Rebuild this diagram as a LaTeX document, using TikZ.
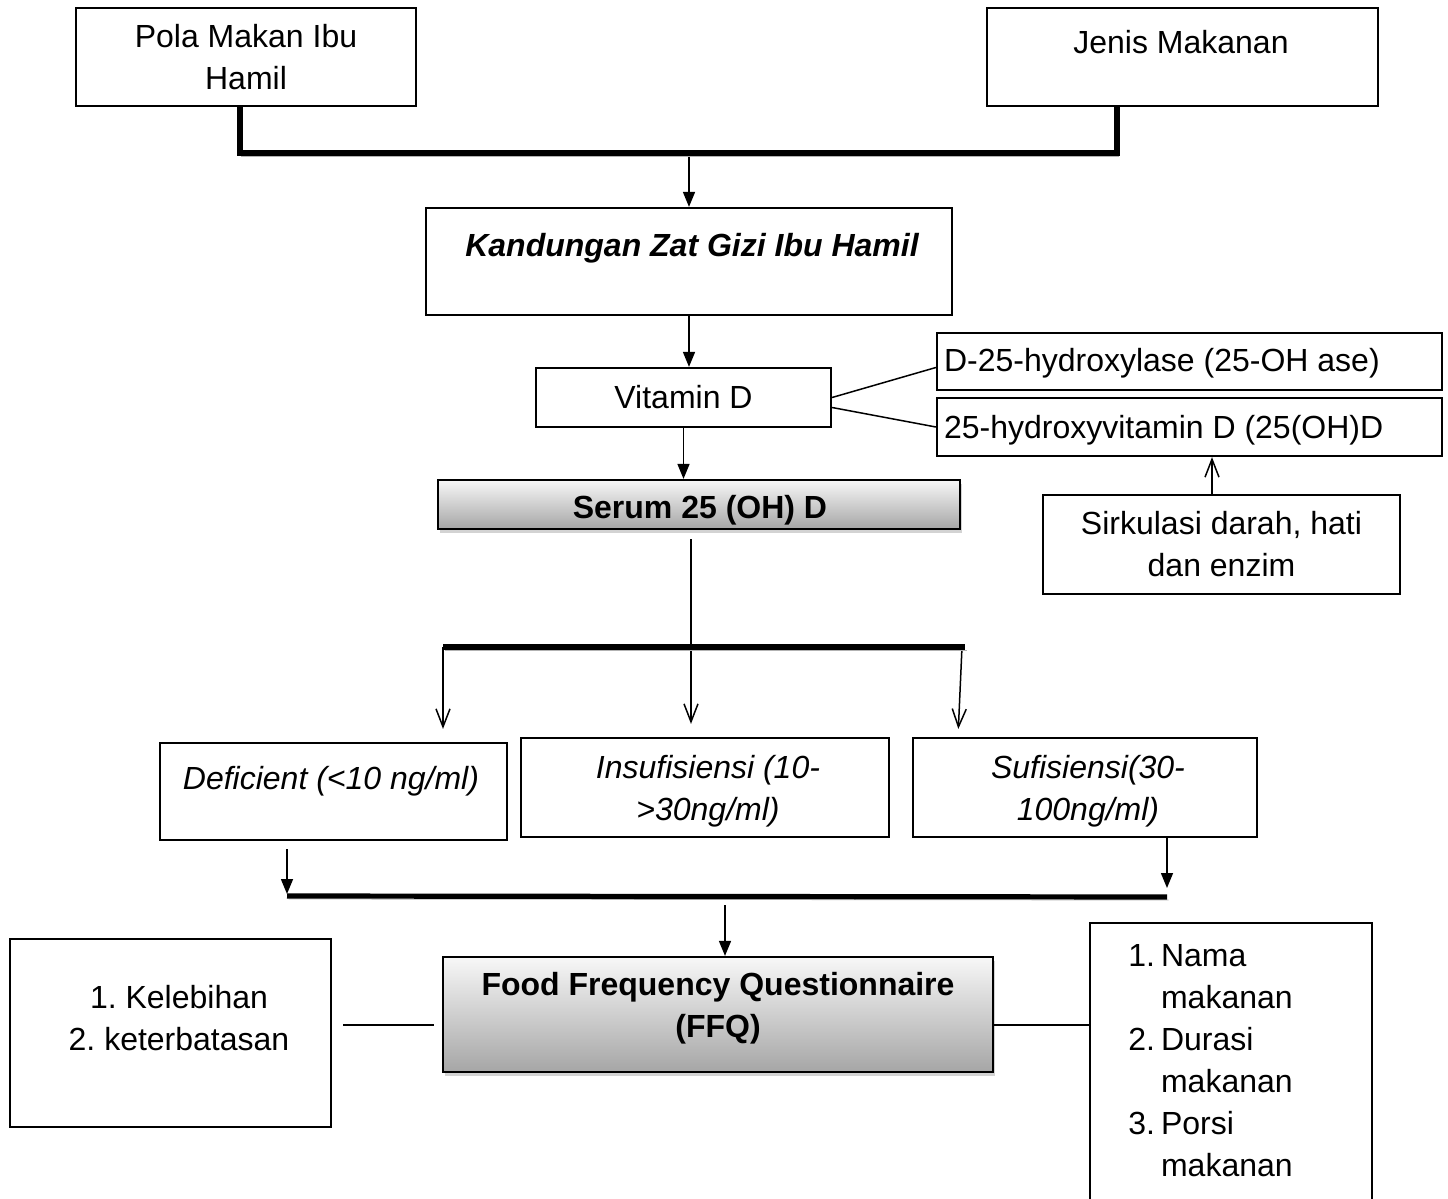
\documentclass[tikz,border=0pt]{standalone}
\usepackage{fontspec}
\setmainfont{Liberation Sans}
\usetikzlibrary{arrows.meta,shadows}
\newcommand{\nodefont}{\fontsize{16}{21}\selectfont\frenchspacing}

\begin{document}
\begin{tikzpicture}[x=0.5pt,y=-0.5pt,
  every node/.style={font=\nodefont,align=center},
  box/.style={draw,line width=1.1pt,inner sep=0pt},
  shadebox/.style={box,top color=black!3,bottom color=black!35,
    drop shadow={shadow xshift=1pt,shadow yshift=-2pt,opacity=0.35}},
  bar/.style={line width=2.6pt,preaction={draw=black!30,transform canvas={xshift=0.8pt,yshift=-1.5pt}}},
  arr/.style={-{Triangle[length=7.5pt,width=6pt]},line width=0.75pt},
  open arr/.style={-{Straight Barb[length=9pt,width=7pt]},line width=0.75pt},
  conn/.style={line width=0.75pt}]

  \useasboundingbox (0,0) rectangle (1448,1199);

  \node[box,minimum width=170pt,minimum height=49pt] (pola) at (246,57) {Pola Makan Ibu\\Hamil};
  \node[box,minimum width=195.5pt,minimum height=49pt] (jenis) at (1182.5,57) {};
  \node (jenistxt) at (1181,42) {Jenis Makanan};
  \node[box,minimum width=263pt,minimum height=53.5pt] (kandungan) at (689,261.5) {};
  \node[font=\nodefont\bfseries\itshape] (kandungantxt) at (692,248) {Kandungan Zat Gizi Ibu Hamil};
  \node[box,minimum width=147.5pt,minimum height=29.5pt] (vitd) at (683.5,397.5) {Vitamin D};
  \node[box,minimum width=252.5pt,minimum height=28.5pt] (hydroxylase) at (1189.5,361.5) {};
  \node[anchor=west] (hydroxylasetxt) at (937,363) {D-25-hydroxylase (25-OH ase)};
  \node[box,minimum width=252.5pt,minimum height=29pt] (hydroxyvit) at (1189.5,427) {};
  \node[anchor=west] (hydroxyvittxt) at (937,430) {25-hydroxyvitamin D (25(OH)D};
  \node[shadebox,minimum width=261pt,minimum height=24.5pt] (serum) at (699,504.5) {};
  \node[font=\nodefont\bfseries] (serumtxt) at (700,510) {Serum 25 (OH) D};
  \node[box,minimum width=178.5pt,minimum height=49.5pt] (sirkulasi) at (1221.5,544.5) {Sirkulasi darah, hati\\dan enzim};

  \node[box,minimum width=173.5pt,minimum height=48.5pt] (deficient) at (333.5,791.5) {};
  \node[font=\nodefont\itshape] (deficienttxt) at (331,781) {Deficient (<10 ng/ml)};
  \node[box,minimum width=184pt,minimum height=49.5pt] (insuf) at (705,787.5) {};
  \node[font=\nodefont\itshape] (insuftxt) at (708,791) {Insufisiensi (10-\\>30ng/ml)};
  \node[box,minimum width=172pt,minimum height=49.5pt] (suf) at (1085,787.5) {};
  \node[font=\nodefont\itshape] (suftxt) at (1088,791) {Sufisiensi(30-\\100ng/ml)};

  \node[shadebox,minimum width=275pt,minimum height=57.5pt] (ffq) at (718,1014.5) {};
  \node[font=\nodefont\bfseries] (ffqtxt) at (718,1008) {Food Frequency Questionnaire\\(FFQ)};
  \node[box,minimum width=160.5pt,minimum height=94pt] (kelebihan) at (170.5,1033) {};
  \node (kelebihantxt) at (179,1018) {1. Kelebihan\\2. keterbatasan};
  \node[box,minimum width=141pt,minimum height=147pt] (komponen) at (1231,1070) {};
  \node[anchor=north west,inner sep=0pt] (komponentxt) at (1128,937)
    {\begin{tabular}{@{}l@{\hspace{3pt}}l@{}}1. & Nama\\ & makanan\\2. & Durasi\\ & makanan\\3. & Porsi\\ & makanan\end{tabular}};

  \coordinate (join0) at (240,153);
  \coordinate (join1) at (1117,153);
  \coordinate (up) at (1212,0);
  \coordinate (split2) at (691,647);
  \coordinate (bar2l) at (443,647);
  \coordinate (bar2r) at (965,647);
  \coordinate (bar2s) at (962,647);
  \coordinate (bar2e) at (958,0);
  \coordinate (bar3l) at (287,896);
  \coordinate (bar3r) at (1167,897);
  \coordinate (bar3m) at (725,897);
  \coordinate (ffqy) at (0,1025);

  \draw[arr] (kandungan.north |- join1) -- (kandungan.north);
  \draw[bar] (join0 |- pola.south) -- (join0) -- (join1) -- (join1 |- jenis.south);
  \draw[arr] (kandungan.south) -- (kandungan.south |- vitd.north);
  \draw[conn] (vitd.east) -- ([yshift=-3pt]hydroxylase.west);
  \draw[conn] ([yshift=-5pt]vitd.east) -- (hydroxyvit.west);
  \draw[arr] (vitd.south) -- (vitd.south |- serum.north);
  \draw[open arr] (up |- sirkulasi.north) -- (up |- hydroxyvit.south);

  \draw[conn,shorten <=4.5pt] (split2 |- serum.south) -- (split2);
  \draw[open arr,shorten >=6.5pt] (bar2l) -- (bar2l |- deficient.north);
  \draw[open arr,shorten >=6.5pt] (split2) -- (split2 |- insuf.north);
  \draw[open arr,shorten >=4pt] (bar2s) -- (bar2e |- suf.north);
  \draw[bar] (bar2l) -- (bar2r);

  \draw[arr,shorten <=4pt,shorten >=1pt] (bar3l |- deficient.south) -- (bar3l);
  \draw[arr,shorten >=4.5pt] (bar3r |- suf.south) -- (bar3r);
  \draw[bar] (bar3l) -- (bar3r);
  \draw[arr,shorten <=4pt] (bar3m) -- (bar3m |- ffq.north);

  \draw[conn,shorten <=5.5pt,shorten >=4pt] (ffqy -| kelebihan.east) -- (ffqy -| ffq.west);
  \draw[conn] (ffqy -| ffq.east) -- (ffqy -| komponen.west);
\end{tikzpicture}
\end{document}
